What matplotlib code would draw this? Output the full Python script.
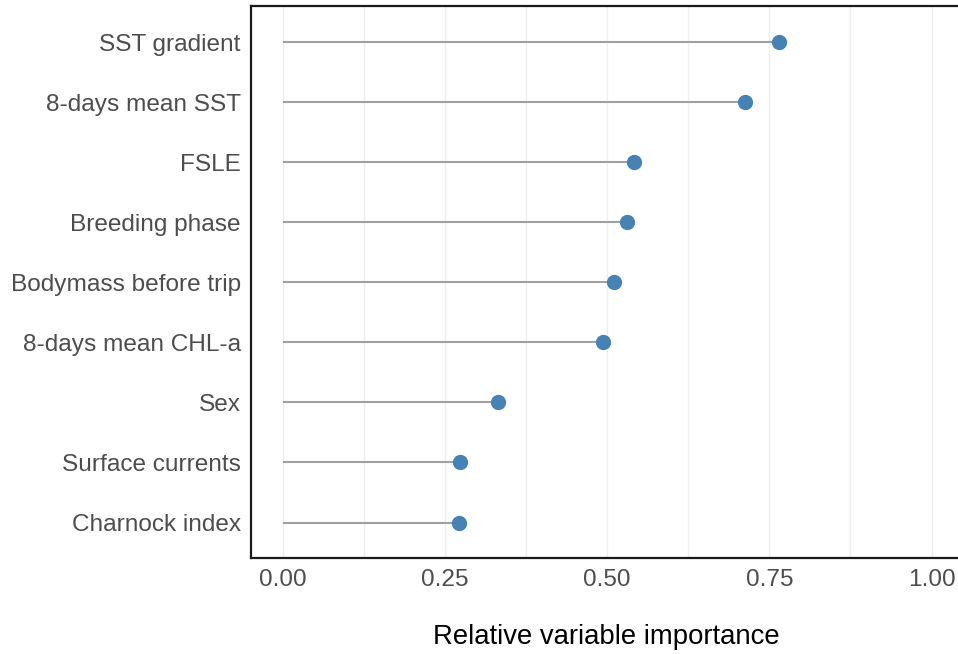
import matplotlib
matplotlib.use("Agg")
import matplotlib.pyplot as plt
import numpy as np

variables = ["Charnock index", "Surface currents", "Sex", "8-days mean CHL-a",
             "Bodymass before trip", "Breeding phase", "FSLE", "8-days mean SST",
             "SST gradient"]
importance = [0.272, 0.273, 0.332, 0.494, 0.511, 0.530, 0.541, 0.713, 0.765]
xticks = [0.0, 0.25, 0.5, 0.75, 1.0]
xticklabels = ["0.00", "0.25", "0.50", "0.75", "1.00"]

plt.rcParams['font.family'] = ['Liberation Sans', 'DejaVu Sans']

W, H = 958, 654
fig = plt.figure(figsize=(W / 100, H / 100), dpi=100)
left, right, top, bottom = 250.5, 964, 6, 558
ax = fig.add_axes([left / W, 1 - bottom / H, (right - left) / W, (bottom - top) / H])

ypos = np.arange(1, len(variables) + 1)

# grid
for g in np.arange(0, 1.0001, 0.125):
    ax.axvline(g, color="#eeeeee", lw=1.0, zorder=0)

ax.hlines(ypos, 0, importance, color="#a0a0a0", lw=1.5, zorder=2)
ax.plot(importance, ypos, "o", color="#4682b4", markersize=11, zorder=3,
        markeredgewidth=0)

ax.set_xlim(-0.05, 1.05)
ax.set_ylim(0.41, 9.6)
ax.set_yticks(ypos)
ax.set_yticklabels(variables)
ax.set_xticks(xticks)
ax.set_xticklabels(xticklabels)
ax.tick_params(axis="both", length=0, labelsize=17.6, labelcolor="#4d4d4d")
ax.tick_params(axis="y", pad=7)
ax.tick_params(axis="x", pad=8)

for s in ["left", "top", "bottom"]:
    ax.spines[s].set_linewidth(1.6)
    ax.spines[s].set_color("#1a1a1a")
ax.spines["right"].set_visible(False)

fig.text(606 / W, 1 - 637 / H, "Relative variable importance", ha="center",
         va="center", fontsize=19.8, color="black")

fig.savefig("out.png", dpi=100)
